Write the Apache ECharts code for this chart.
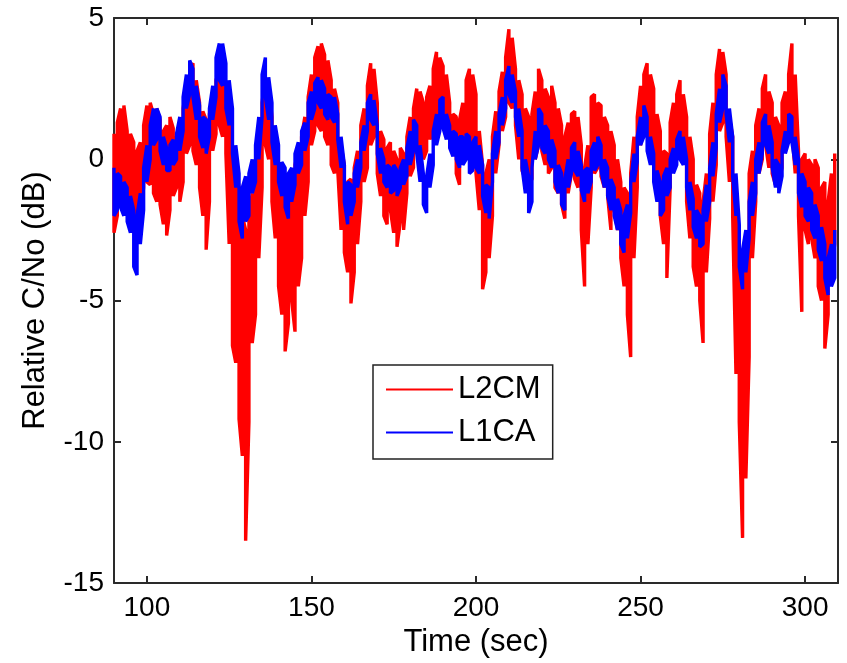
<!DOCTYPE html>
<html>
<head>
<meta charset="utf-8">
<script src="https://cdn.jsdelivr.net/npm/echarts@6/dist/echarts.min.js"></script>
<style>html,body{margin:0;padding:0;background:#fff;}#chart{width:847px;height:663px;}</style>
</head>
<body>
<div id="chart"></div>
<script>
// time of first sample (sec), one sample per second
const T0 = 90;
const xTicks = [100, 150, 200, 250, 300];
const seriesNames = ['L2CM', 'L1CA'];

// L2CM upper / lower envelope, t = 90..309
const l2cmHi = [
 0.9,1.3,1.8,1.9,1.0,0.9,0.6,0.3,0.6,1.2,
 1.9,2.0,1.6,1.8,1.4,1.0,1.2,1.5,1.1,0.8,
 1.3,1.8,2.6,3.2,3.4,2.8,2.0,1.7,1.4,1.6,
 2.3,2.8,3.2,3.0,2.4,1.3,0.3,-0.3,-1.0,-2.0,
 -2.5,-2.0,-1.2,-0.3,0.8,2.0,2.9,2.6,1.5,0.5,
 -0.5,-0.9,-1.3,-1.2,-0.5,-0.2,0.3,0.8,1.5,2.2,
 3.0,3.6,4.0,4.1,3.7,3.5,2.8,2.5,2.0,0.5,
 -0.2,-0.8,-0.7,-0.3,0.3,1.2,1.8,2.6,3.4,3.2,
 2.0,1.0,0.7,0.4,0.6,0.3,0.0,0.4,0.2,0.8,
 1.5,1.8,2.5,2.4,2.0,2.2,2.6,3.2,3.8,3.6,
 3.3,3.0,2.0,1.6,1.5,1.4,2.0,2.8,3.2,3.0,
 2.3,1.0,-0.2,-0.5,0.0,0.8,1.7,2.4,3.1,3.6,
 4.6,4.3,3.2,2.8,2.3,1.8,1.5,1.6,2.4,3.2,
 2.8,2.5,2.2,2.6,2.0,1.8,1.2,0.8,1.3,1.6,
 1.7,1.5,0.5,-0.3,0.5,2.2,2.3,2.0,1.9,1.5,
 1.2,1.0,0.5,0.0,-0.8,-1.0,-1.2,-0.5,0.8,1.5,
 2.6,3.0,3.4,3.0,2.5,1.6,1.0,0.3,0.2,1.3,
 2.0,2.3,2.8,2.3,1.5,0.8,0.0,-0.9,-1.2,-1.5,
 -0.5,0.9,2.0,3.0,3.9,3.8,3.0,1.5,0.8,-1.5,
 -3.0,-4.0,-3.0,-0.5,0.3,1.2,1.8,2.5,3.0,2.4,
 2.0,1.5,1.2,2.0,2.4,3.0,4.1,3.0,0.3,0.0,
 0.2,0.0,-0.2,0.0,-0.3,-1.0,-0.8,-1.5,-0.5,0.2
];
const l2cmLo = [
 -2.6,-2.0,-1.5,-1.4,-1.8,-1.9,-2.2,-2.4,-2.0,-1.0,
 -0.8,-0.9,-1.2,-1.5,-1.6,-2.3,-2.7,-1.8,-1.3,-1.0,
 -1.5,-0.8,0.2,0.5,0.3,-0.2,-1.0,-2.0,-3.2,-1.5,
 0.3,0.9,1.2,0.8,0.2,-3.0,-6.6,-7.2,-9.2,-10.5,
 -13.5,-9.3,-6.5,-5.5,-3.5,-1.0,0.5,0.0,-1.5,-2.8,
 -4.5,-5.5,-6.8,-5.8,-5.0,-6.1,-4.5,-3.5,-2.0,-0.8,
 0.5,1.0,1.2,1.0,0.8,0.5,-0.2,-0.5,-0.4,-2.5,
 -3.3,-4.0,-5.1,-4.0,-3.0,-1.5,-0.8,-0.3,0.5,0.8,
 -0.5,-1.3,-2.0,-2.3,-1.8,-2.6,-3.1,-2.2,-2.5,-1.2,
 -0.6,-0.3,0.2,0.5,0.0,0.3,0.7,1.0,1.2,1.1,
 1.3,1.0,0.5,0.3,-0.5,-0.9,0.0,0.5,0.8,0.5,
 -0.5,-1.8,-4.6,-4.0,-3.5,-2.0,-0.5,0.5,1.0,1.5,
 2.0,1.8,1.2,0.0,-0.4,-0.7,-0.9,-0.7,0.0,0.5,
 0.3,-0.2,-0.5,-0.3,-1.0,-1.2,-1.6,-2.1,-1.2,-0.5,
 -0.7,-1.0,-2.5,-4.5,-3.0,-1.0,-0.5,-0.3,-0.6,-1.0,
 -1.3,-2.5,-1.8,-2.5,-3.5,-4.5,-5.5,-7.0,-3.5,-1.0,
 0.5,1.0,1.0,0.6,0.0,-1.0,-2.0,-3.0,-4.2,-1.0,
 -0.2,0.5,0.8,0.0,-1.5,-2.8,-3.8,-4.5,-5.0,-6.5,
 -4.0,-2.1,-1.5,-0.2,1.0,1.3,0.8,-0.8,-2.0,-7.6,
 -9.3,-13.4,-11.3,-7.0,-3.5,-1.5,-0.5,0.0,0.5,-0.3,
 -0.5,-0.9,-0.8,-0.3,0.3,0.8,1.0,-0.5,-2.0,-5.4,
 -2.5,-3.0,-2.8,-3.5,-4.5,-5.0,-6.7,-5.5,-4.0,-3.0
];
// L1CA upper / lower envelope, t = 90..309
const l1caHi = [
 -0.3,-0.5,-0.6,-0.8,-1.0,-1.3,-1.8,-2.0,-1.2,-0.3,
 0.5,1.2,1.8,1.8,1.5,0.8,0.4,0.5,0.7,0.9,
 1.5,2.2,3.0,3.5,3.2,2.6,1.9,1.5,1.4,1.8,
 2.6,3.6,4.1,4.1,3.4,2.8,1.8,0.5,-0.5,-1.0,
 -0.6,-0.5,0.0,0.5,1.5,3.0,3.6,2.9,2.0,1.2,
 0.5,-0.1,-0.3,-0.5,-0.3,0.2,0.6,1.0,1.3,2.0,
 2.4,2.7,2.9,2.8,2.5,2.3,2.2,2.2,1.6,0.8,
 -0.2,-0.8,-0.9,-0.5,0.0,0.6,1.2,2.0,2.3,2.1,
 1.2,0.4,0.0,-0.2,-0.3,-0.2,-0.4,-0.3,0.0,0.4,
 1.0,1.4,1.2,0.5,-0.5,-0.6,0.2,1.0,1.6,2.1,
 2.2,1.6,1.2,1.0,0.9,0.8,0.8,0.9,0.8,0.6,
 0.8,0.5,-0.2,-0.9,-1.0,0.2,1.0,1.6,2.2,2.8,
 3.3,3.0,2.4,1.8,1.0,0.0,-0.6,-0.3,1.0,1.8,
 1.6,1.2,1.0,0.7,0.3,-0.2,-0.5,-0.7,0.0,0.4,
 0.6,0.3,-0.2,-0.4,-0.3,0.3,0.6,0.8,0.5,0.0,
 -0.3,-0.7,-1.0,-1.4,-1.8,-2.0,-1.6,-0.8,0.2,0.8,
 1.5,1.9,1.5,0.8,0.2,-0.4,-0.8,-0.6,-0.3,0.0,
 0.4,0.7,1.0,0.8,0.0,-0.8,-1.4,-1.8,-2.0,-1.8,
 -0.9,-0.3,0.6,1.6,2.5,3.0,2.6,1.8,0.8,-0.5,
 -2.3,-3.2,-2.5,-1.5,-0.8,0.0,0.6,1.3,1.6,1.2,
 0.6,0.0,-0.2,0.3,1.0,1.6,1.5,0.8,0.0,-0.5,
 -0.8,-1.0,-1.2,-1.6,-2.0,-2.4,-3.0,-3.5,-3.0,-2.5
];
const l1caLo = [
 -2.0,-1.8,-1.7,-2.0,-2.2,-2.6,-3.8,-4.1,-3.0,-1.8,
 -0.8,0.0,0.5,0.7,0.3,-0.2,-0.4,-0.4,-0.2,0.0,
 0.3,1.0,1.8,2.3,2.2,1.4,0.8,0.4,0.2,0.8,
 1.4,2.2,2.8,2.6,1.8,1.2,0.2,-1.0,-2.2,-2.8,
 -2.2,-2.0,-1.2,-0.8,0.0,1.5,2.2,1.4,0.6,-0.2,
 -0.8,-1.3,-1.7,-2.1,-1.5,-0.9,-0.5,-0.2,0.3,0.8,
 1.4,1.8,2.0,1.8,1.6,1.4,1.5,1.3,0.7,-0.3,
 -1.5,-2.3,-2.0,-1.5,-1.0,-0.3,0.3,1.0,1.4,1.2,
 0.2,-0.5,-0.8,-1.0,-1.2,-1.1,-1.3,-1.0,-0.9,-0.6,
 -0.2,0.3,0.2,-0.8,-1.6,-1.9,-1.0,-0.2,0.5,1.0,
 1.1,0.7,0.4,0.1,0.0,-0.3,-0.2,0.0,-0.5,-0.4,
 -0.3,-0.5,-1.3,-1.9,-2.1,-0.8,0.0,0.6,1.2,1.8,
 2.3,2.0,1.5,0.8,-0.3,-1.2,-1.9,-1.5,0.0,0.5,
 0.4,0.2,0.0,-0.3,-0.8,-1.2,-1.6,-1.8,-1.0,-0.5,
 -0.4,-0.6,-1.1,-1.5,-1.2,-0.8,-0.4,-0.2,-0.4,-1.0,
 -1.3,-1.8,-2.0,-2.5,-3.0,-3.3,-2.8,-1.9,-0.8,-0.1,
 0.5,0.8,0.3,-0.2,-0.8,-1.5,-2.0,-1.8,-1.3,-1.0,
 -0.5,-0.2,0.0,-0.2,-1.0,-1.8,-2.4,-2.8,-3.1,-3.0,
 -2.2,-1.5,-0.6,0.4,1.3,1.8,1.6,0.6,-0.6,-2.0,
 -3.8,-4.6,-4.0,-2.8,-2.0,-1.2,-0.5,0.2,0.5,0.2,
 -0.3,-1.0,-1.2,-0.6,0.2,0.6,0.6,-0.2,-1.2,-1.7,
 -2.0,-2.2,-2.5,-2.8,-3.2,-3.6,-4.2,-4.8,-4.5,-4.2
];

// trace visiting the upper and lower envelope at each second
function trace(hi, lo) {
  const pts = [];
  for (let i = 0; i < hi.length; i++) {
    const t = T0 + i;
    if (i % 2 === 0) { pts.push([t, hi[i]]); pts.push([t, lo[i]]); }
    else { pts.push([t, lo[i]]); pts.push([t, hi[i]]); }
  }
  return pts;
}

const FONT = 'Liberation Sans';
const AXC = '#2a2a2a';
const RED = '#ff0000', BLUE = '#0000ff';
const chart = echarts.init(document.getElementById('chart'), null, {renderer: 'canvas'});
const baseX = {
  type: 'value', min: 90, max: 310,
  axisLine: {show: true, onZero: false, lineStyle: {color: AXC, width: 2}},
  axisTick: {show: true, inside: true, length: 7, customValues: xTicks, lineStyle: {color: AXC, width: 2}},
  splitLine: {show: false}
};
const baseY = {
  type: 'value', min: -15, max: 5, interval: 5,
  axisLine: {show: true, onZero: false, lineStyle: {color: AXC, width: 2}},
  axisTick: {show: true, inside: true, length: 7, lineStyle: {color: AXC, width: 2}},
  splitLine: {show: false}
};
chart.setOption({
  animation: false,
  backgroundColor: '#fff',
  grid: {left: 114, right: 9, top: 18, bottom: 76, containLabel: false},
  xAxis: [
    Object.assign({}, baseX, {
      position: 'bottom',
      name: 'Time (sec)', nameLocation: 'middle', nameGap: 42,
      nameTextStyle: {fontFamily: FONT, fontSize: 31, color: '#000'},
      axisLabel: {show: true, customValues: xTicks, margin: 11, fontFamily: FONT, fontSize: 28, color: '#000'}
    }),
    Object.assign({}, baseX, {position: 'top', axisLabel: {show: false}})
  ],
  yAxis: [
    Object.assign({}, baseY, {
      position: 'left',
      name: 'Relative C/No (dB)', nameLocation: 'middle', nameGap: 63,
      nameTextStyle: {fontFamily: FONT, fontSize: 31, color: '#000'},
      axisLabel: {show: true, margin: 10, fontFamily: FONT, fontSize: 28, color: '#000'}
    }),
    Object.assign({}, baseY, {position: 'right', axisLabel: {show: false}})
  ],
  legend: {
    show: true, orient: 'vertical', left: 373, top: 365, z: 10,
    padding: [9, 12, 11, 13], itemGap: 12, itemWidth: 67, itemHeight: 2,
    icon: 'rect',
    backgroundColor: '#fff', borderColor: '#222', borderWidth: 1.5, borderRadius: 0,
    data: seriesNames,
    textStyle: {fontFamily: FONT, fontSize: 31, color: '#000', lineHeight: 30}
  },
  series: [
    {name: seriesNames[0], type: 'line', symbol: 'none', showSymbol: false,
     data: trace(l2cmHi, l2cmLo),
     lineStyle: {color: RED, width: 3.4, cap: 'butt', join: 'bevel'}, itemStyle: {color: RED}, z: 2},
    {name: seriesNames[1], type: 'line', symbol: 'none', showSymbol: false,
     data: trace(l1caHi, l1caLo),
     lineStyle: {color: BLUE, width: 3.4, cap: 'butt', join: 'bevel'}, itemStyle: {color: BLUE}, z: 3}
  ]
});
</script>
</body>
</html>
